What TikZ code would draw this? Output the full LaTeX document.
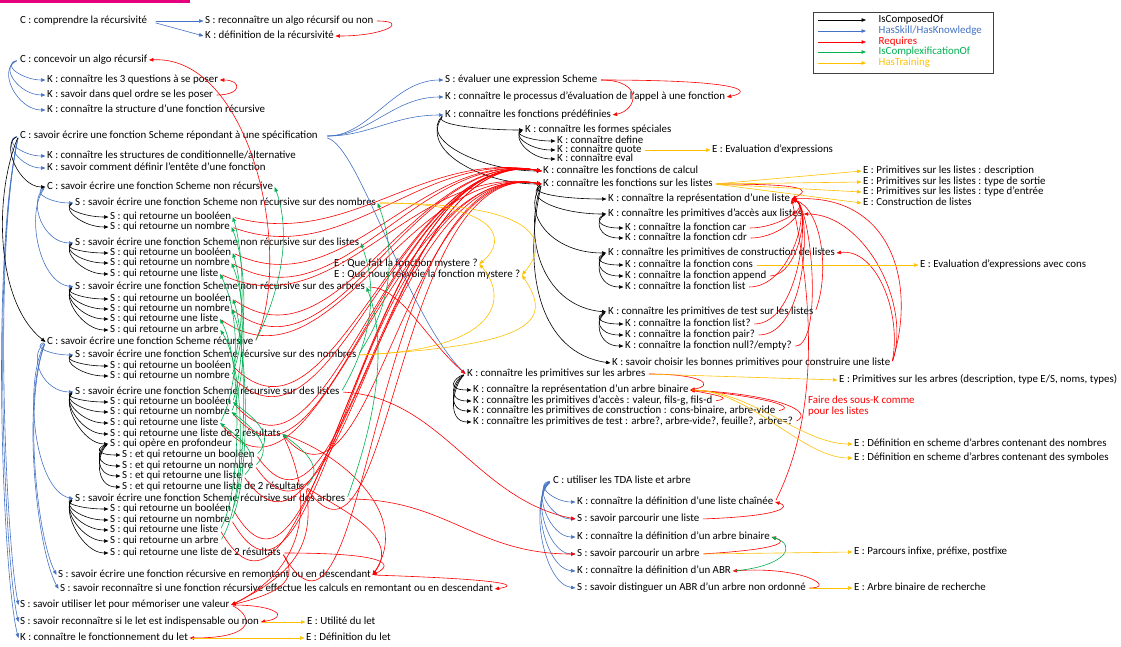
\documentclass[tikz,border=0pt]{standalone}
\usepackage{fontspec}
\setmainfont{Carlito}
\usetikzlibrary{arrows.meta}
\definecolor{cblue}{RGB}{68,114,196}
\definecolor{cred}{RGB}{255,0,0}
\definecolor{cgreen}{RGB}{0,176,80}
\definecolor{cyel}{RGB}{255,192,0}
\definecolor{cmag}{RGB}{230,0,126}
\newcommand\dgfont{\fontsize{10.9}{11}\selectfont}
\tikzset{
  tx/.style={anchor=west, inner xsep=1.5pt, inner ysep=0pt, text height=7.5pt, text depth=2.5pt, font=\dgfont},
  txn/.style={anchor=north west, inner xsep=1.5pt, inner ysep=0pt, font=\fontsize{10.9}{10.5}\selectfont, align=left},
  ar/.style={-{Triangle[length=4.5pt,width=3.5pt]}, line width=0.6pt, shorten <=2pt},
  bk/.style={ar, draw=black},
  bl/.style={ar, draw=cblue},
  rd/.style={ar, draw=cred},
  gr/.style={ar, draw=cgreen},
  yl/.style={ar, draw=cyel},
}
\begin{document}
\begin{tikzpicture}[x=1pt,y=-1pt]
\useasboundingbox (0,0) rectangle (1121,646);
\fill[cmag] (0,0) rectangle (190,2.5);

% ---------- left column ----------
\node[tx] (n1) at (18.5,21) {C : comprendre la récursivité};
\node[tx] (n1s) at (203.5,21) {S : reconnaître un algo récursif ou non};
\node[tx] (n1k) at (203.5,36) {K : définition de la récursivité};
\node[tx] (n2) at (18.5,60) {C : concevoir un algo récursif};
\node[tx] (n2a) at (45.5,80) {K : connaître les 3 questions à se poser};
\node[tx] (n2b) at (45.5,95) {K : savoir dans quel ordre se les poser};
\node[tx] (n2c) at (45.5,110) {K : connaître la structure d’une fonction récursive};
\node[tx] (n3) at (18.5,136) {C : savoir écrire une fonction Scheme répondant à une spécification};
\node[tx] (n3a) at (45.5,156) {K : connaître les structures de conditionnelle/alternative};
\node[tx] (n3b) at (45.5,168) {K : savoir comment définir l’entête d’une fonction};
\node[tx] (nc) at (45.5,187) {C : savoir écrire une fonction Scheme non récursive};
\node[tx] (nn) at (73.5,203) {S : savoir écrire une fonction Scheme non récursive sur des nombres};
\node[tx] (nn1) at (108.5,217) {S : qui retourne un booléen};
\node[tx] (nn2) at (108.5,227) {S : qui retourne un nombre};
\node[tx] (nl) at (73.5,243) {S : savoir écrire une fonction Scheme non récursive sur des listes};
\node[tx] (nl1) at (108.5,253) {S : qui retourne un booléen};
\node[tx] (nl2) at (108.5,263) {S : qui retourne un nombre};
\node[tx] (nl3) at (108.5,274) {S : qui retourne une liste};
\node[tx] (na) at (73.5,287) {S : savoir écrire une fonction Scheme non récursive sur des arbres};
\node[tx] (na1) at (108.5,299) {S : qui retourne un booléen};
\node[tx] (na2) at (108.5,309) {S : qui retourne un nombre};
\node[tx] (na3) at (108.5,319) {S : qui retourne une liste};
\node[tx] (na4) at (108.5,330) {S : qui retourne un arbre};
\node[tx] (rc) at (45.5,342) {C : savoir écrire une fonction Scheme récursive};
\node[tx] (rn) at (73.5,355) {S : savoir écrire une fonction Scheme récursive sur des nombres};
\node[tx] (rn1) at (108.5,366) {S : qui retourne un booléen};
\node[tx] (rn2) at (108.5,376) {S : qui retourne un nombre};
\node[tx] (rl) at (73.5,392) {S : savoir écrire une fonction Scheme récursive sur des listes};
\node[tx] (rl1) at (108.5,402) {S : qui retourne un booléen};
\node[tx] (rl2) at (108.5,412) {S : qui retourne un nombre};
\node[tx] (rl3) at (108.5,423) {S : qui retourne une liste};
\node[tx] (rl4) at (108.5,434) {S : qui retourne une liste de 2 résultats};
\node[tx] (rl5) at (108.5,444) {S : qui opère en profondeur};
\node[tx] (rl51) at (120.5,455) {S : et qui retourne un booléen};
\node[tx] (rl52) at (120.5,466) {S : et qui retourne un nombre};
\node[tx] (rl53) at (120.5,476) {S : et qui retourne une liste};
\node[tx] (rl54) at (120.5,487) {S : et qui retourne une liste de 2 résultats};
\node[tx] (ra) at (73.5,499) {S : savoir écrire une fonction Scheme récursive sur des arbres};
\node[tx] (ra1) at (108.5,509) {S : qui retourne un booléen};
\node[tx] (ra2) at (108.5,520) {S : qui retourne un nombre};
\node[tx] (ra3) at (108.5,530) {S : qui retourne une liste};
\node[tx] (ra4) at (108.5,541) {S : qui retourne un arbre};
\node[tx] (ra5) at (108.5,553) {S : qui retourne une liste de 2 résultats};
\node[tx] (sr) at (56.5,575) {S : savoir écrire une fonction récursive en remontant ou en descendant};
\node[tx] (sr2) at (58.5,589) {S : savoir reconnaître si une fonction récursive effectue les calculs en remontant ou en descendant};
\node[tx] (let1) at (18.5,605) {S : savoir utiliser let pour mémoriser une valeur};
\node[tx] (let2) at (18.5,622) {S : savoir reconnaître si le let est indispensable ou non};
\node[tx] (let3) at (18.5,638) {K : connaître le fonctionnement du let};
\node[tx] (el1) at (305.5,622) {E : Utilité du let};
\node[tx] (el2) at (304.5,638) {E : Définition du let};

% ---------- middle / right ----------
\node[tx] (ev) at (443.5,80) {S : évaluer une expression Scheme};
\node[tx] (pr) at (443.5,97) {K : connaître le processus d’évaluation de l’appel à une fonction};
\node[tx] (fp) at (443.5,115) {K : connaître les fonctions prédéfinies};
\node[tx] (fs) at (523.5,130) {K : connaître les formes spéciales};
\node[tx] (fs1) at (555.5,141) {K : connaître define};
\node[tx] (fs2) at (555.5,150) {K : connaître quote};
\node[tx] (fs3) at (555.5,159) {K : connaître eval};
\node[tx] (eev) at (710.5,150) {E : Evaluation d’expressions};
\node[tx] (fc) at (541.5,171) {K : connaître les fonctions de calcul};
\node[tx] (fl) at (541.5,184) {K : connaître les fonctions sur les listes};
\node[tx] (lr) at (606.5,199) {K : connaître la représentation d’une liste};
\node[tx] (la) at (606.5,214) {K : connaître les primitives d’accès aux listes};
\node[tx] (la1) at (623.5,228) {K : connaître la fonction car};
\node[tx] (la2) at (623.5,238) {K : connaître la fonction cdr};
\node[tx] (lc) at (606.5,253) {K : connaître les primitives de construction de listes};
\node[tx] (lc1) at (623.5,265) {K : connaître la fonction cons};
\node[tx] (lc2) at (623.5,276) {K : connaître la fonction append};
\node[tx] (lc3) at (623.5,287) {K : connaître la fonction list};
\node[tx] (lt) at (606.5,312) {K : connaître les primitives de test sur les listes};
\node[tx] (lt1) at (623.5,324) {K : connaître la fonction list?};
\node[tx] (lt2) at (623.5,335) {K : connaître la fonction pair?};
\node[tx] (lt3) at (623.5,346) {K : connaître la fonction null?/empty?};
\node[tx] (lch) at (610.5,363) {K : savoir choisir les bonnes primitives pour construire une liste};
\node[tx] (ls1) at (861.5,171) {E : Primitives sur les listes : description};
\node[tx] (ls2) at (861.5,182) {E : Primitives sur les listes : type de sortie};
\node[tx] (ls3) at (861.5,192) {E : Primitives sur les listes : type d’entrée};
\node[tx] (ls4) at (861.5,203) {E : Construction de listes};
\node[tx] (ecs) at (918.5,265) {E : Evaluation d’expressions avec cons};
\node[tx] (m1) at (332.5,264) {E : Que fait la fonction mystere ?};
\node[tx] (m2) at (332.5,275) {E : Que nous renvoie la fonction mystere ?};
\node[tx] (ta) at (465.5,374) {K : connaître les primitives sur les arbres};
\node[tx] (ta1) at (471.5,390) {K : connaître la représentation d’un arbre binaire};
\node[tx] (ta2) at (471.5,401) {K : connaître les primitives d’accès : valeur, fils-g, fils-d};
\node[tx] (ta3) at (471.5,411) {K : connaître les primitives de construction : cons-binaire, arbre-vide};
\node[tx] (ta4) at (471.5,422) {K : connaître les primitives de test : arbre?, arbre-vide?, feuille?, arbre=?};
\node[tx] (eta) at (837.5,380) {\makebox[278pt][s]{E : Primitives sur les arbres (description, type E/S, noms, types)}};
\node[txn, text=cred] (note) at (806.5,396) {Faire des sous-K comme\\pour les listes};
\node[tx] (et1) at (852.5,444) {E : Définition en scheme d’arbres contenant des nombres};
\node[tx] (et2) at (852.5,458) {E : Définition en scheme d’arbres contenant des symboles};
\node[tx] (tda) at (551.5,481) {C : utiliser les TDA liste et arbre};
\node[tx] (td1) at (575.5,502) {K : connaître la définition d’une liste chaînée};
\node[tx] (td2) at (575.5,519) {S : savoir parcourir une liste};
\node[tx] (td3) at (575.5,537) {K : connaître la définition d’un arbre binaire};
\node[tx] (td4) at (575.5,554) {S : savoir parcourir un arbre};
\node[tx] (td5) at (575.5,571) {K : connaître la définition d’un ABR};
\node[tx] (td6) at (575.5,588) {S : savoir distinguer un ABR d’un arbre non ordonné};
\node[tx] (epc) at (852.5,552) {E : Parcours infixe, préfixe, postfixe};
\node[tx] (eab) at (852.5,588) {E : Arbre binaire de recherche};

% ---------- legend ----------
\draw[black!75, line width=0.7pt] (813,12) rectangle (993,73);
\coordinate (g1a) at (818,20); \coordinate (g1b) at (866,20);
\coordinate (g2a) at (818,31); \coordinate (g2b) at (866,31);
\coordinate (g3a) at (818,42); \coordinate (g3b) at (866,42);
\coordinate (g4a) at (818,52); \coordinate (g4b) at (866,52);
\coordinate (g5a) at (818,63); \coordinate (g5b) at (866,63);
\draw[bk, shorten <=0pt] (g1a) -- (g1b);
\draw[bl, shorten <=0pt] (g2a) -- (g2b);
\draw[rd, shorten <=0pt] (g3a) -- (g3b);
\draw[gr, shorten <=0pt] (g4a) -- (g4b);
\draw[yl, shorten <=0pt] (g5a) -- (g5b);
\node[tx] (lg1) at (877,20) {IsComposedOf};
\node[tx, text=cblue] (lg2) at (877,31) {HasSkill/HasKnowledge};
\node[tx, text=cred] (lg3) at (877,42) {Requires};
\node[tx, text=cgreen] (lg4) at (877,52) {IsComplexificationOf};
\node[tx, text=cyel] (lg5) at (877,63) {HasTraining};

% ---------- blue ----------
\draw[bl, shorten <=7pt] (n1.east) -- (n1s.west);
\draw[bl, shorten <=7pt] (n1.east) -- (n1k.west);
\draw[bl] (n2.west) .. controls +(-18,5) and +(-22,0) .. (n2a.west);
\draw[bl] (n2.west) .. controls +(-20,8) and +(-25,0) .. (n2b.west);
\draw[bl] (n2.west) .. controls +(-22,10) and +(-28,0) .. (n2c.west);
\draw[bl] (n3.west) .. controls +(-16,5) and +(-22,0) .. (n3a.west);
\draw[bl] (n3.west) .. controls +(-17,6) and +(-24,0) .. (n3b.west);
\draw[bl] (n3.west) .. controls +(-26,120) and +(-12,-60) .. (let1.west);
\draw[bl] (n3.west) .. controls +(-27,120) and +(-14,-60) .. (let2.west);
\draw[bl] (n3.west) .. controls +(-28,120) and +(-16,-60) .. (let3.west);
\draw[bl] (nc.west) .. controls +(-14,6) and +(-22,0) .. (nn.west);
\draw[bl] (nc.west) .. controls +(-18,15) and +(-30,0) .. (nl.west);
\draw[bl] (nc.west) .. controls +(-20,25) and +(-35,-5) .. (na.west);
\draw[bl] (rc.west) .. controls +(-14,5) and +(-22,0) .. (rn.west);
\draw[bl] (rc.west) .. controls +(-18,15) and +(-30,0) .. (rl.west);
\draw[bl] (rc.west) .. controls +(-22,40) and +(-40,-10) .. (ra.west);
\draw[bl] (rc.west) .. controls +(-22,60) and +(-20,-40) .. (sr.west);
\draw[bl] (rc.west) .. controls +(-24,60) and +(-22,-40) .. (sr2.west);
\draw[bl, shorten <=8pt] (n3.east) .. controls +(50,0) and +(-50,0) .. (ev.west);
\draw[bl, shorten <=8pt] (n3.east) .. controls +(50,0) and +(-50,0) .. (pr.west);
\draw[bl, shorten <=8pt] (n3.east) .. controls +(50,0) and +(-50,0) .. (fp.west);
\draw[bl, shorten <=8pt] (n3.east) .. controls +(40,10) and +(-60,-60) .. (ta.west);
\draw[bl] (tda.west) .. controls +(-18,3) and +(-22,0) .. (td1.west);
\draw[bl] (tda.west) .. controls +(-19,6) and +(-24,0) .. (td2.west);
\draw[bl] (tda.west) .. controls +(-20,9) and +(-26,0) .. (td3.west);
\draw[bl] (tda.west) .. controls +(-21,12) and +(-28,0) .. (td4.west);
\draw[bl] (tda.west) .. controls +(-22,16) and +(-30,-2) .. (td5.west);
\draw[bl] (tda.west) .. controls +(-23,20) and +(-32,-4) .. (td6.west);

% ---------- black ----------
\draw[bk] (n3.west) .. controls +(-18,8) and +(-26,0) .. (nc.west);
\draw[bk] (n3.west) .. controls +(-25,60) and +(-50,-40) .. (rc.west);
\foreach \p/\c/\d in {nn/nn1/4, nn/nn2/6, nl/nl1/4, nl/nl2/6, nl/nl3/8, na/na1/4, na/na2/6, na/na3/8, na/na4/10,
  rn/rn1/4, rn/rn2/6, rl/rl1/4, rl/rl2/6, rl/rl3/8, rl/rl4/10, rl/rl5/12,
  rl5/rl51/3, rl5/rl52/5, rl5/rl53/7, rl5/rl54/9,
  ra/ra1/4, ra/ra2/6, ra/ra3/8, ra/ra4/10, ra/ra5/12,
  fs/fs1/3, fs/fs2/5, fs/fs3/7, la/la1/4, la/la2/6, lc/lc1/4, lc/lc2/6, lc/lc3/8,
  lt/lt1/4, lt/lt2/6, lt/lt3/8, ta/ta1/4, ta/ta2/6, ta/ta3/8, ta/ta4/10}
  \draw[bk] (\p.west) .. controls +(-12,\d) and +(-26,0) .. (\c.west);
\draw[bk] (fp.west) .. controls +(-10,10) and +(-40,0) .. (fs.west);
\draw[bk] (fp.west) .. controls +(-25,25) and +(-60,0) .. (fc.west);
\draw[bk] (fp.west) .. controls +(-25,35) and +(-60,0) .. (fl.west);
\draw[bk] (fl.west) .. controls +(-15,10) and +(-40,0) .. (lr.west);
\draw[bk] (fl.west) .. controls +(-18,15) and +(-45,0) .. (la.west);
\draw[bk] (fl.west) .. controls +(-20,30) and +(-55,0) .. (lc.west);
\draw[bk] (fl.west) .. controls +(-20,60) and +(-60,-5) .. (lt.west);
\draw[bk] (fl.west) .. controls +(-20,90) and +(-70,-10) .. (lch.west);

% ---------- red ----------
\draw[rd] (n1s.east) .. controls +(35,0) and +(50,0) .. (n1k.east);
\draw[rd] (n2b.east) .. controls +(28,0) and +(22,0) .. (n2a.east);
\draw[rd] (rc.east) .. controls +(40,-90) and +(100,-5) .. (n2.east);
\draw[rd] (ev.east) .. controls +(150,0) and +(25,-5) .. (pr.east);
\draw[rd] (ev.east) .. controls +(45,0) and +(25,-5) .. (fp.east);
\foreach \s/\o in {nn1/-15, nn2/-20, nl1/-25, nl2/-30, na1/-35, na2/-38, rn1/-45, rn2/-45,
  rl1/-50, rl2/-50, rl51/-55, rl52/-55, ra1/-60, ra2/-60}
  \draw[rd] (\s.east) to[out=\o,in=170] (fc.west);
\foreach \s/\o in {nl3/-25, na3/-35, rl3/-50, rl4/-50, rl53/-55, rl54/-55, ra3/-60, ra5/-60}
  \draw[rd] (\s.east) to[out=\o,in=170] (fl.west);
\draw[rd] (na.east) .. controls +(35,0) and +(-40,-35) .. (ta.west);
\draw[rd] (rl.east) .. controls +(100,5) and +(-100,-20) .. (td2.west);
\draw[rd] (ra.east) .. controls +(100,0) and +(-100,0) .. (td4.west);
\foreach \s/\d in {la1/30, la2/34, lc2/30, lc3/44, lt1/48, lt2/52, lt3/30}
  \draw[rd] (\s.east) .. controls +(\d,0) and +(20,8) .. (lr.east);
\draw[rd] (lt.east) .. controls +(15,-40) and +(30,10) .. (lr.east);
\draw[rd] (fl.east) .. controls +(90,0) and +(20,-10) .. (lr.east);
\draw[rd] (lch.east) .. controls +(25,-80) and +(100,-5) .. (lr.east);
\draw[rd] (lch.east) .. controls +(20,-60) and +(60,0) .. (la.east);
\draw[rd] (lch.east) .. controls +(10,-50) and +(40,-5) .. (lc.east);
\draw[rd] (td1.east) .. controls +(40,-80) and +(25,120) .. (lr.east);
\draw[rd] (ta.east) .. controls +(55,0) and +(25,-5) .. (ta1.east);
\draw[rd] (ta2.east) .. controls +(20,-3) and +(25,5) .. (ta1.east);
\draw[rd] (ta3.east) .. controls +(25,-5) and +(60,5) .. (ta1.east);
\draw[rd] (ta4.east) .. controls +(20,-10) and +(90,5) .. (ta1.east);
\draw[rd] (td2.east) .. controls +(85,-3) and +(15,4) .. (td1.east);
\draw[rd] (td4.east) .. controls +(85,-5) and +(15,4) .. (td3.east);
\draw[rd] (td6.east) .. controls +(30,0) and +(70,-5) .. (td5.east);
\draw[rd] (let1.east) .. controls +(45,0) and +(30,-5) .. (let2.east);
\draw[rd] (let1.east) .. controls +(20,10) and +(70,0) .. (let3.east);
\draw[rd] (ra5.east) .. controls +(20,30) and +(40,-10) .. (let1.east);
\draw[rd] (rl54.east) .. controls +(10,60) and +(60,-30) .. (let1.east);
\draw[rd] (rl4.east) .. controls +(30,60) and +(80,-40) .. (let1.east);
\draw[rd] (ra5.east) .. controls +(110,0) and +(20,-10) .. (sr.east);
\draw[rd] (rl54.east) .. controls +(30,20) and +(30,-40) .. (sr.east);
\draw[rd] (rl4.east) .. controls +(60,20) and +(40,-60) .. (sr.east);
\draw[rd] (sr.east) .. controls +(150,5) and +(20,-3) .. (sr2.east);

% ---------- green ----------
\draw[gr] (rc.east) .. controls +(30,-60) and +(15,40) .. (nc.east);
\draw[gr] (rn.east) .. controls +(40,-60) and +(15,40) .. (nn.east);
\draw[gr] (rl.east) .. controls +(35,-60) and +(15,40) .. (nl.east);
\draw[gr] (ra.east) .. controls +(40,-110) and +(15,40) .. (na.east);
\foreach \a/\b/\d in {rn1/nn1/12, rn2/nn2/16, rl1/nl1/12, rl2/nl2/16, rl3/nl3/20,
  ra1/na1/14, ra2/na2/18, ra3/na3/22, ra4/na4/26}
  \draw[gr] (\a.east) .. controls +(\d,-40) and +(\d,40) .. (\b.east);
\foreach \a/\b in {rl51/rl1, rl52/rl2, rl53/rl3, rl54/rl4}
  \draw[gr] (\a.east) .. controls +(20,-20) and +(20,15) .. (\b.east);
\draw[gr] (td5.east) .. controls +(55,-5) and +(25,8) .. (td3.east);

% ---------- yellow ----------
\draw[yl] (fs2.east) -- (eev.west);
\foreach \e in {ls1,ls2,ls3,ls4} \draw[yl] (fl.east) -- (\e.west);
\draw[yl] (lc1.east) -- (ecs.west);
\draw[yl] (ta.east) -- (eta.west);
\draw[yl] (ta1.east) .. controls +(60,0) and +(-50,0) .. (et1.west);
\draw[yl] (ta1.east) .. controls +(60,0) and +(-50,0) .. (et2.west);
\draw[yl] (td4.east) -- (epc.west);
\draw[yl] (td6.east) -- (eab.west);
\draw[yl] (let2.east) -- (el1.west);
\draw[yl] (let3.east) -- (el2.west);
\draw[yl] (nn.east) .. controls +(120,0) and +(30,-25) .. (m1.east);
\draw[yl] (nn.east) .. controls +(160,0) and +(30,-35) .. (m2.east);
\draw[yl] (rn.east) .. controls +(140,-5) and +(30,35) .. (m1.east);
\draw[yl] (rn.east) .. controls +(180,-10) and +(30,45) .. (m2.east);
\end{tikzpicture}
\end{document}
